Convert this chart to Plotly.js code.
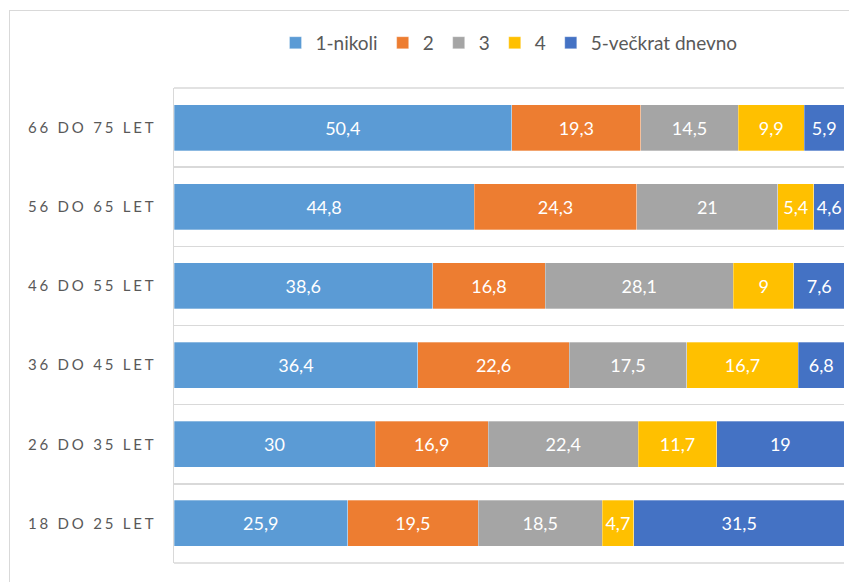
<!DOCTYPE html>
<html>
<head>
<meta charset="utf-8">
<script src="https://cdn.plot.ly/plotly-3.0.1.min.js"></script>
<style>
  html, body { margin: 0; padding: 0; background: #fff; }
  #chart { width: 849px; height: 582px; position: relative; }
  #frame { position: absolute; left: 9px; top: 10px; width: 900px; height: 700px;
           border: 1.5px solid #d9d9d9; pointer-events: none; box-sizing: border-box; }
  #chart .yaxislayer-above .ytick text { letter-spacing: 2.8px; }
</style>
</head>
<body>
<div id="chart"></div>
<div id="frame"></div>
<script>
const categories = ['18 DO 25 LET', '26 DO 35 LET', '36 DO 45 LET', '46 DO 55 LET', '56 DO 65 LET', '66 DO 75 LET'];
const seriesNames = ['1-nikoli', '2', '3', '4', '5-večkrat dnevno'];
const s1 = [25.9, 30, 36.4, 38.6, 44.8, 50.4];
const s2 = [19.5, 16.9, 22.6, 16.8, 24.3, 19.3];
const s3 = [18.5, 22.4, 17.5, 28.1, 21, 14.5];
const s4 = [4.7, 11.7, 16.7, 9, 5.4, 9.9];
const s5 = [31.5, 19, 6.8, 7.6, 4.6, 5.9];
const colors = ['#5B9BD5', '#ED7D31', '#A5A5A5', '#FFC000', '#4472C4'];

const seriesValues = [s1, s2, s3, s4, s5];
const fmt = v => String(v).replace('.', ',');
const FONT = 'Lato, "Open Sans", sans-serif';

const traces = seriesValues.map((vals, i) => ({
  type: 'bar',
  orientation: 'h',
  name: seriesNames[i],
  y: categories,
  x: vals,
  text: vals.map(fmt),
  textposition: 'inside',
  insidetextanchor: 'middle',
  textangle: 0,
  constraintext: 'none',
  textfont: { color: '#ffffff', size: 18, family: FONT },
  marker: { color: colors[i], line: { color: 'rgba(255,255,255,0.5)', width: 0.6 } },
  hoverinfo: 'skip'
}));

// invisible helper trace on a numeric overlay axis so that gridlines fall between categories
const boundaries = [];
for (let k = 0; k <= categories.length; k++) boundaries.push(k - 0.5);
traces.push({
  type: 'scatter', mode: 'markers', x: [0], y: [0], yaxis: 'y2',
  marker: { opacity: 0 }, showlegend: false, hoverinfo: 'skip'
});

const gridLine = { color: '#d9d9d9', width: 1.5 };

const layout = {
  width: 849, height: 582,
  margin: { l: 174, r: 5, t: 88, b: 19 },
  paper_bgcolor: '#ffffff', plot_bgcolor: '#ffffff',
  barmode: 'stack',
  bargap: 0.42,
  hovermode: false,
  showlegend: true,
  legend: {
    orientation: 'h', x: 0.5, xanchor: 'center', y: 1.095, yanchor: 'middle',
    font: { size: 19, color: '#595959', family: FONT },
    traceorder: 'normal', itemwidth: 30, tracegroupgap: 0
  },
  xaxis: {
    range: [0, 100], showgrid: false, zeroline: false, showticklabels: false,
    showline: false, fixedrange: true
  },
  yaxis: {
    type: 'category', range: [-0.5, categories.length - 0.5],
    showgrid: false, zeroline: false,
    showline: true, linecolor: '#d9d9d9', linewidth: 1.5,
    ticks: '', ticklabelstandoff: 13,
    tickfont: { size: 15, color: '#595959', family: FONT },
    fixedrange: true
  },
  yaxis2: {
    overlaying: 'y', range: [-0.5, categories.length - 0.5],
    tickvals: boundaries, showticklabels: false, ticks: '',
    showgrid: true, gridcolor: '#d9d9d9', gridwidth: 1.5,
    zeroline: false, showline: false, fixedrange: true
  },
  shapes: [
    { type: 'line', xref: 'paper', yref: 'paper', x0: 0, x1: 1, y0: 1, y1: 1, line: gridLine, layer: 'below' },
    { type: 'line', xref: 'paper', yref: 'paper', x0: 0, x1: 1, y0: 0, y1: 0, line: gridLine, layer: 'below' }
  ],
  font: { family: FONT, color: '#595959' }
};

Plotly.newPlot('chart', traces, layout, { displayModeBar: false, staticPlot: true });
</script>
</body>
</html>
